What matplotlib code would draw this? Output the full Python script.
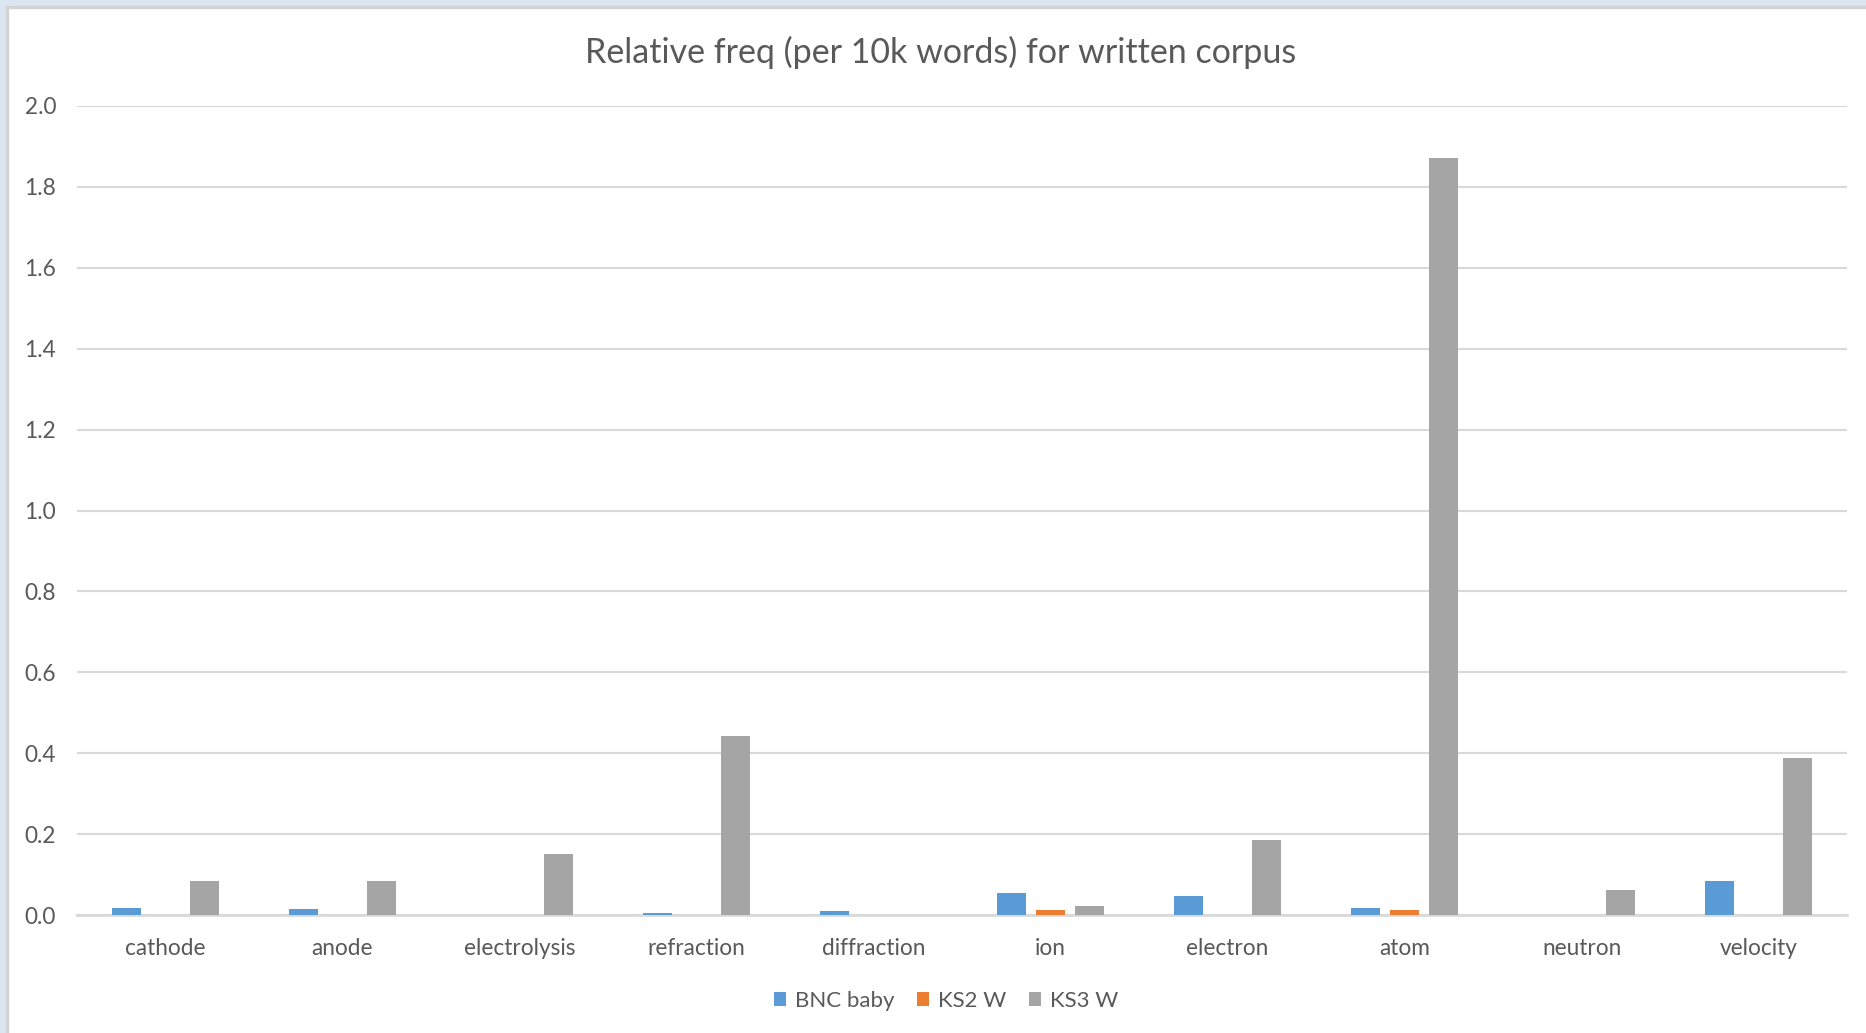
import numpy as np
import matplotlib.pyplot as plt
from matplotlib.patches import Rectangle

# Data
words = ["cathode", "anode", "electrolysis", "refraction", "diffraction",
         "ion", "electron", "atom", "neutron", "velocity"]
bnc_baby = [0.018, 0.015, 0.0, 0.005, 0.009, 0.054, 0.048, 0.018, 0.0, 0.085]
ks2_w = [0.0, 0.0, 0.0, 0.0, 0.0, 0.0125, 0.0, 0.0125, 0.0, 0.0]
ks3_w = [0.085, 0.085, 0.152, 0.443, 0.0, 0.022, 0.185, 1.872, 0.0625, 0.389]
series_names = ["BNC baby", "KS2 W", "KS3 W"]
yticks = [0.0, 0.2, 0.4, 0.6, 0.8, 1.0, 1.2, 1.4, 1.6, 1.8, 2.0]

colors = ["#5b9bd5", "#ed7d31", "#a5a5a5"]
txt = "#595959"
grid = "#d9d9d9"

plt.rcParams['font.family'] = ['Lato', 'DejaVu Sans']

W, H = 1866, 1033
fig = plt.figure(figsize=(W / 100, H / 100), dpi=100)
ax = fig.add_axes([77 / W, 1 - 915 / H, (1847 - 77) / W, (915 - 106) / H])

x = np.arange(len(words))
bw = 0.165
step = 0.22
for i, (vals, name) in enumerate(zip([bnc_baby, ks2_w, ks3_w], series_names)):
    ax.bar(x + (i - 1) * step, vals, width=bw, color=colors[i], label=name, zorder=3)

ax.set_xlim(-0.5, len(words) - 0.5)
ax.set_ylim(0, 2.0)
ax.set_yticks(yticks)
ax.set_yticklabels([f"{t:.1f}" for t in yticks])
ax.set_xticks(x)
ax.set_xticklabels(words)
ax.tick_params(axis='both', length=0, labelsize=16.3, colors=txt)
ax.tick_params(axis='x', pad=16.5)
ax.tick_params(axis='y', pad=15)
ax.grid(axis='y', color=grid, linewidth=1.5, zorder=0)
for s in ["top", "right", "left"]:
    ax.spines[s].set_visible(False)
ax.spines["bottom"].set_color(grid)
ax.spines["bottom"].set_linewidth(2)

fig.text(941 / W, 1 - 52 / H, "Relative freq (per 10k words) for written corpus",
         ha='center', va='center', fontsize=24.5, color=txt)

leg = fig.legend(loc='center', bbox_to_anchor=(946 / W, 1 - 1001 / H), ncol=3,
                 frameon=False, fontsize=16, handlelength=0.55, handleheight=0.55,
                 handletextpad=0.4, columnspacing=1.0)
for t in leg.get_texts():
    t.set_color(txt)

# window frame strips on top and left
fig.patches.append(Rectangle((0, H - 6), W, 6, transform=None, color="#dce6f2", zorder=0))
fig.patches.append(Rectangle((0, 0), 6, H, transform=None, color="#dce6f2", zorder=0))
fig.patches.append(Rectangle((6, H - 8), W, 2, transform=None, color="#d4d4d4", zorder=0))
fig.patches.append(Rectangle((6, 0), 2, H - 6, transform=None, color="#d4d4d4", zorder=0))

fig.savefig("out.png", dpi=100)
